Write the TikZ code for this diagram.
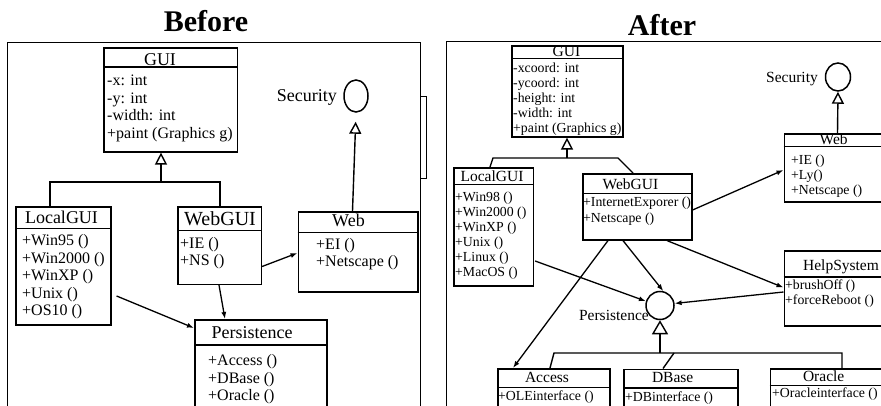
\documentclass[tikz,border=0pt]{standalone}
\usepackage{fontspec}
\setmainfont{Liberation Serif}
\usetikzlibrary{shapes.geometric,arrows.meta,calc}
% #1 name, #2 x1, #3 y1, #4 x2, #5 y2, #6 y of rule, #7 x of items, #8 first baseline, #9 items
\newcommand\umlclass[9]{%
  \node[classbox, minimum width={#4-#2}, minimum height={#5-#3}, anchor=north west] (#1) at (#2,#3) {};
  \draw[classrule] ($(#1.north west)+(0,#6-#3)$) -- ($(#1.north east)+(0,#6-#3)$);
  \foreach \itm [count=\nn] in {#9}{%
    \node[itemtext, anchor=base west] (#1-\nn) at (#7,{#8+(\nn-1)*\itemgap}) {\itm};}%
}
\begin{document}
\begin{tikzpicture}[x=1pt,y=-1pt,
  classbox/.style={draw, rectangle, line width=1.6pt, inner sep=0pt},
  classrule/.style={line width=1.4pt},
  conn/.style={line width=1.4pt},
  arr/.style={line width=1.3pt, -{Latex[length=7pt,width=5pt]}},
  gen/.style={line width=1.4pt, -{Triangle[open,length=12pt,width=12pt]}},
  frameline/.style={line width=1pt},
  itemtext/.style={font=\itemfont, inner sep=0pt},
  ctitle/.style={font=\titlefont, inner sep=0pt, anchor=base},
  ptitle/.style={font=\fontsize{30}{34}\selectfont\bfseries, inner sep=0pt, anchor=base},
  lbl/.style={font=\titlefont, inner sep=0pt, anchor=base east},
]
\useasboundingbox (0,0) rectangle (881,406);
\clip (0,0) rectangle (881,406);

% ================= BEFORE =================
\begin{scope}
\def\itemfont{\fontsize{16}{18}\selectfont}
\def\titlefont{\fontsize{18}{20}\selectfont}
\def\itemgap{17.4}
\node[ptitle] (before) at (206,32) {Before};
\draw[frameline] (7,410) -- (7,43) -- (420.7,43) -- (420.7,410);
\draw[frameline] (420.7,97) rectangle (426,179);

\umlclass{gui}{103}{47}{236.5}{151}{67}{107}{86}{{-x: int},{-y: int},{-width: int},{+paint (Graphics g)}}
\node[ctitle] (gui-t) at (160,66) {GUI};

\umlclass{local}{15}{206}{110}{324}{228.3}{22}{246}{{+Win95 ()},{+Win2000 ()},{+WinXP ()},{+Unix ()},{+OS10 ()}}
\node[ctitle] (local-t) at (61.5,223.3) {LocalGUI};

\umlclass{webgui}{177}{206}{260.5}{283.5}{230.5}{180}{248.3}{{+IE ()},{+NS ()}}
\node[ctitle, font=\fontsize{20}{22}\selectfont] (webgui-t) at (220,226) {WebGUI};

\umlclass{web}{297.5}{211}{417}{291}{232.3}{316}{249.3}{{+EI ()},{+Netscape ()}}
\node[ctitle] (web-t) at (348.5,226.7) {Web};

\umlclass{pers}{194}{319}{326}{420}{345}{208}{365.7}{{+Access ()},{+DBase ()},{+Oracle ()}}
\node[ctitle] (pers-t) at (252,338.3) {Persistence};

\node[draw, ellipse, line width=1.5pt, minimum width=24, minimum height=32, inner sep=0pt] (sec) at (356,96) {};
\node[lbl] (sec-l) at (337,102) {Security};

% generalisation GUI
\coordinate (lj) at (161,182);
\draw[gen] (lj) -- (lj |- gui.south);
\draw[conn] ($(local.north west)+(35,0)$) |- (lj) -| ($(webgui.north west)+(43,0)$);
% realisation Security
\draw[gen, shorten >=9pt] ($(web.north west)+(55,0)$) -- (sec.south);
% dependencies
\draw[arr] ($(webgui.north east)+(0,60.5)$) -- ($(web.north west)+(0,42)$);
\draw[arr] ($(local.north east)+(5,90)$) -- ($(pers.north west)+(0,9)$);
\draw[arr] ($(webgui.south west)+(42,0)$) -- ($(pers.north west)+(31,0)$);
\end{scope}

% ================= AFTER =================
\begin{scope}
\def\itemfont{\fontsize{13.8}{15}\selectfont}
\def\titlefont{\fontsize{15.5}{17}\selectfont}
\def\itemgap{15}
\node[ptitle] (after) at (662,36) {After};
\draw[frameline] (446,410) -- (446,41.5) -- (885,41.5);

\umlclass{gui2}{511}{45}{622}{136}{58.3}{513}{72.5}{{-xcoord: int},{-ycoord: int},{-height: int},{-width: int},{+paint (Graphics g)}}
\node[ctitle] (gui2-t) at (566.5,57) {GUI};

\umlclass{local2}{453}{167}{532.5}{285}{184.5}{455}{201.5}{{+Win98 ()},{+Win2000 ()},{+WinXP ()},{+Unix ()},{+Linux ()},{+MacOS ()}}
\node[ctitle] (local2-t) at (492,182) {LocalGUI};

\def\itemgap{15.5}
\umlclass{webgui2}{582}{173}{691}{239}{193.3}{583}{207}{{+InternetExporer ()},{+Netscape ()}}
\node[ctitle] (webgui2-t) at (630.5,190) {WebGUI};
\def\itemgap{14.8}
\umlclass{web2}{783.5}{133}{900}{201.5}{146.5}{791}{165}{{+IE ()},{+Ly()},{+Netscape ()}}
\node[ctitle] (web2-t) at (833.7,145) {Web};
\def\itemgap{15}
\umlclass{help}{783.5}{250}{900}{325}{277}{785}{290}{{+brushOff ()},{+forceReboot ()}}
\node[ctitle] (help-t) at (841,270) {HelpSystem};

\umlclass{access}{497}{368}{609}{420}{387.5}{498}{400.5}{{+OLEinterface ()}}
\node[ctitle] (access-t) at (547,382) {Access};
\umlclass{dbase}{623}{368.5}{737}{420}{388}{625}{401}{{+DBinterface ()}}
\node[ctitle] (dbase-t) at (672.7,382) {DBase};
\umlclass{oracle}{769.5}{368}{900}{420}{385.5}{772}{397}{{+Oracleinterface ()}}
\node[ctitle] (oracle-t) at (823.7,381) {Oracle};

\node[draw, ellipse, line width=1.5pt, minimum width=25, minimum height=28, inner sep=0pt] (sec2) at (838,77) {};
\node[lbl] (sec2-l) at (818,82.7) {Security};
\node[draw, circle, line width=1.5pt, minimum size=28, inner sep=0pt] (pc) at (660,305.5) {};
\node[lbl] (pc-l) at (649,320.7) {Persistence};

% generalisation GUI
\coordinate (rj) at (567,158);
\coordinate (rjl) at (493,158);
\coordinate (rjr) at (618,158);
\draw[gen] (rj) -- (rj |- gui2.south);
\draw[conn] ($(local2.north west)+(37,0)$) -- (rjl) -- (rjr) -- ($(webgui2.north west)+(51,0)$);
% realisation Security
\draw[gen] ($(web2.north west)+(54,0)$) -- (sec2.south);
% realisation Persistence
\coordinate (pj) at (660,353);
\coordinate (pjl) at (554,353);
\coordinate (pjr) at (842,353);
\coordinate (pjd) at (674,353);
\draw[line width=1.4pt, -{Triangle[open,length=14pt,width=16pt]}] (pj) -- (pc.south);
\draw[conn] ($(access.north west)+(53,0)$) -- (pjl) -- (pjr) -- ($(oracle.north west)+(72.5,0)$);
\draw[conn] (pjd) -- ($(dbase.north west)+(40,0)$);
% dependencies
\draw[arr] ($(webgui2.north east)+(0,37)$) -- ($(web2.north west)+(0,37)$);
\draw[arr] ($(webgui2.south west)+(26,0)$) -- ($(access.north west)+(16,0)$);
\draw[arr] ($(webgui2.south west)+(41,0)$) -- (pc.77);
\draw[arr] ($(webgui2.south west)+(85,0)$) -- ($(help.north west)+(0,37.5)$);
\draw[arr] ($(local2.north east)+(1,94)$) -- (pc.163);
\draw[arr] ($(help.north west)+(0,42)$) -- (pc.8);
\end{scope}
\end{tikzpicture}
\end{document}
